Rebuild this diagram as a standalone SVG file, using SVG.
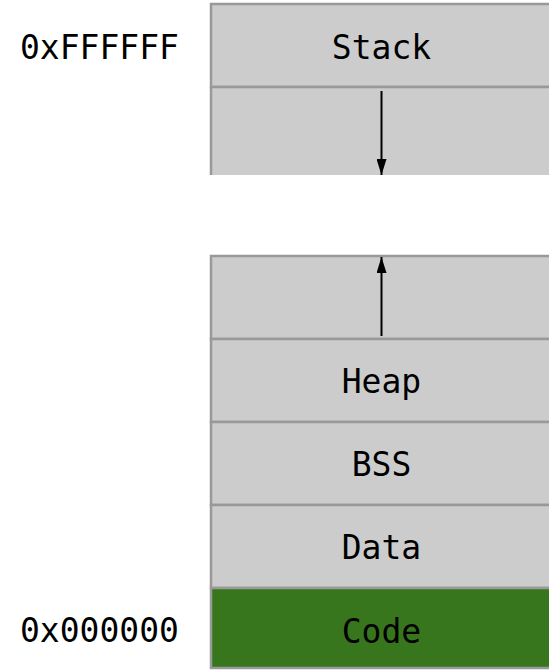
<svg xmlns="http://www.w3.org/2000/svg" width="549" height="670" viewBox="0 0 549 670">
<style>
.cell{fill:#cccccc;stroke:#999999;stroke-width:2.5}
.code{fill:#38761d;stroke:#999999;stroke-width:2.5}
.t{font-family:"DejaVu Sans Mono","Liberation Mono",monospace;font-size:33px;fill:#000}
.m{text-anchor:middle}
.arrow{stroke:#000;stroke-width:2;fill:none}
</style>
<defs>
<marker id="ah" viewBox="0 0 16 10" refX="16" refY="5" markerWidth="16" markerHeight="10" markerUnits="userSpaceOnUse" orient="auto">
<path d="M0,0 L16,5 L0,10 z" fill="#000"/>
</marker>
</defs>
<rect width="549" height="670" fill="#fff"/>
<g id="addr-high"><text class="t" x="20" y="59">0xFFFFFF</text></g>
<g id="addr-low"><text class="t" x="20" y="642">0x000000</text></g>
<g id="stack">
<rect x="211" y="4" width="360" height="83" class="cell"/>
<text class="t m" x="381.5" y="59">Stack</text>
</g>
<g id="stack-growth">
<rect x="211" y="87" width="360" height="88" fill="#cccccc"/>
<path d="M211,87 V175" stroke="#999999" stroke-width="2.5"/>
<path d="M211,87 H571" stroke="#999999" stroke-width="2.5"/>
</g>
<g id="heap-growth"><rect x="211" y="256" width="360" height="83" class="cell"/></g>
<g id="heap"><rect x="211" y="339" width="360" height="83" class="cell"/><text class="t m" x="381.5" y="393">Heap</text></g>
<g id="bss"><rect x="211" y="422" width="360" height="83" class="cell"/><text class="t m" x="381.5" y="476">BSS</text></g>
<g id="data"><rect x="211" y="505" width="360" height="83" class="cell"/><text class="t m" x="381.5" y="559">Data</text></g>
<g id="code"><rect x="211" y="588" width="360" height="80" class="code"/><text class="t m" x="381.5" y="643">Code</text></g>
<g id="connectors">
<path d="M381.5,91 V175" class="arrow" marker-end="url(#ah)"/>
<path d="M381.5,336 V257" class="arrow" marker-end="url(#ah)"/>
</g>
</svg>
